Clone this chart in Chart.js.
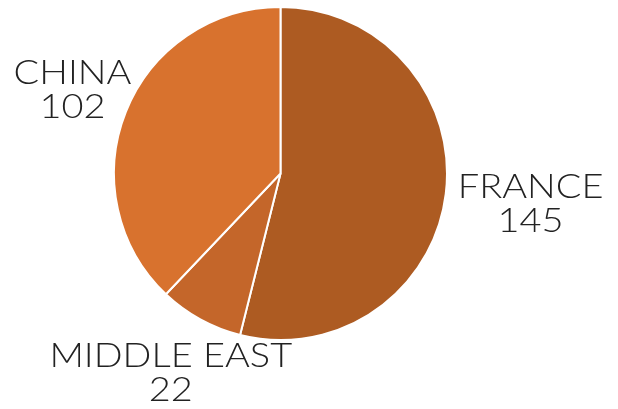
<!DOCTYPE html>
<html>
<head>
<meta charset="utf-8">
<script src="https://cdn.jsdelivr.net/npm/chart.js@4.4.1/dist/chart.umd.min.js"></script>
<style>
  html, body { margin: 0; padding: 0; background: #fff; }
  #wrap { width: 618px; height: 409px; position: relative; }
</style>
</head>
<body>
<div id="wrap"><canvas id="pieChart"></canvas></div>
<script>
  const regions = ['FRANCE', 'MIDDLE EAST', 'CHINA'];
  const amounts = [145, 22, 102];
  const sliceColors = ['#AD5B22', '#C4662A', '#D8722E'];

  // labels sit out along each slice's middle angle
  const labelDist = [252, 228, 224];

  const outsideLabels = {
    id: 'outsideLabels',
    afterDraw(chart) {
      const ctx = chart.ctx;
      const meta = chart.getDatasetMeta(0);
      ctx.fillStyle = '#222';
      ctx.font = '300 33px Lato';
      ctx.textAlign = 'center';
      ctx.textBaseline = 'middle';
      meta.data.forEach((arc, i) => {
        const mid = (arc.startAngle + arc.endAngle) / 2;
        const x = arc.x + Math.cos(mid) * labelDist[i];
        const y = arc.y + Math.sin(mid) * labelDist[i];
        ctx.save();
        // the original face is a wide geometric sans, so stretch a little
        ctx.translate(x, y);
        ctx.scale(1.15, 1);
        ctx.fillText(regions[i], 0, -17);
        ctx.fillText(String(amounts[i]), 0, 17);
        ctx.restore();
      });
    }
  };

  new Chart(document.getElementById('pieChart'), {
    type: 'pie',
    data: {
      labels: regions,
      datasets: [{
        data: amounts,
        backgroundColor: sliceColors,
        borderColor: '#fff',
        borderWidth: 2
      }]
    },
    options: {
      responsive: true,
      maintainAspectRatio: false,
      animation: false,
      layout: { padding: { left: 113, right: 170, top: 6, bottom: 68 } },
      plugins: { legend: { display: false }, tooltip: { enabled: false } }
    },
    plugins: [outsideLabels]
  });
</script>
</body>
</html>
